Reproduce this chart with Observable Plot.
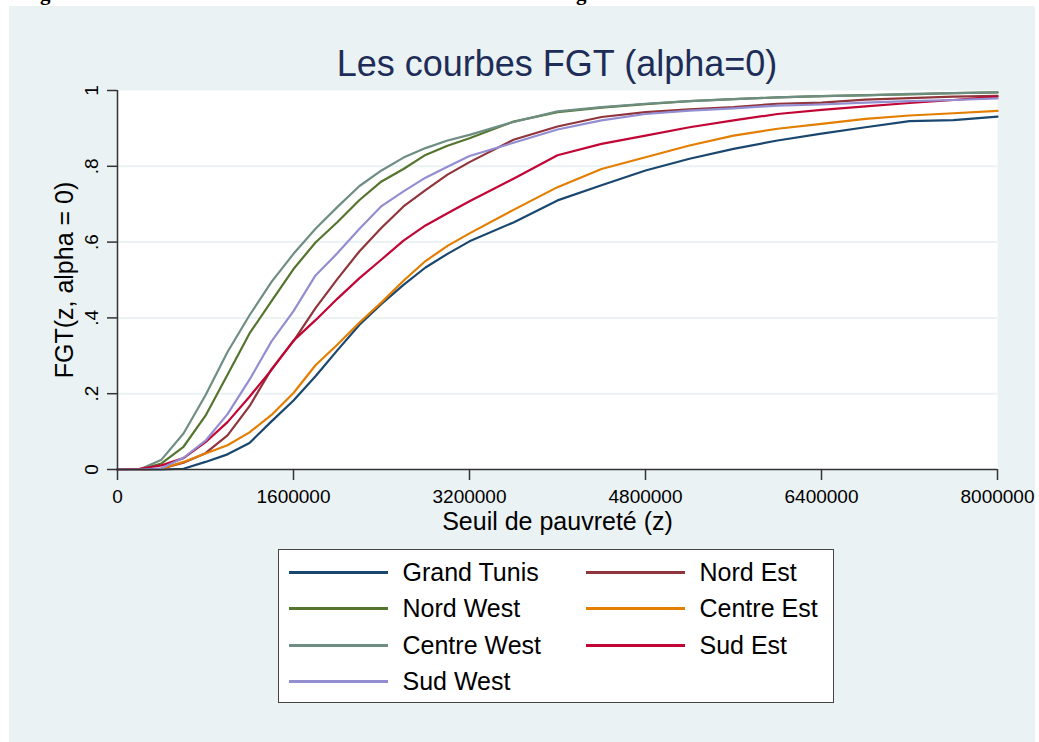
<!DOCTYPE html>
<html><head><meta charset="utf-8">
<script src="https://cdn.jsdelivr.net/npm/d3@7"></script>
<script src="https://cdn.jsdelivr.net/npm/@observablehq/plot@0.6"></script>
<style>
body{margin:0;background:#fff;width:1039px;height:742px;overflow:hidden;position:relative;font-family:"Liberation Sans",Arial,sans-serif;}
#topclip{position:absolute;left:0;top:0;width:1039px;height:6px;overflow:hidden;}
#topclip span{position:absolute;top:-17px;font:bold 21px "Liberation Serif","Times New Roman",serif;line-height:21px;color:#000;}
#chart{position:absolute;left:9px;top:6px;width:1026px;height:736px;background:#eaf2f3;}
#title{position:absolute;left:108px;width:880px;top:40px;line-height:36px;text-align:center;font-size:36px;color:#1e2d58;white-space:nowrap;}
#plot{position:absolute;left:0;top:74px;}
#legend{position:absolute;left:269px;top:543px;width:556px;height:154px;background:#fff;border:1.5px solid #444;box-sizing:border-box;}
.item{position:absolute;height:30px;line-height:30px;font-size:25px;color:#000;white-space:nowrap;}
.sw{position:absolute;height:3px;width:99px;}
</style>
</head><body>
<div id="topclip"><span style="left:40px">g</span><span style="left:576px">g</span></div>
<div id="chart">
  <div id="title"></div>
  <div id="plot"></div>
  <div id="legend"></div>
</div>
<script>
const chartTitle = "Les courbes FGT (alpha=0)";
const xLabel = "Seuil de pauvreté (z)";
const yLabel = "FGT(z, alpha = 0)";

const xTicks = [0, 1600000, 3200000, 4800000, 6400000, 8000000];
const yTicks = [0, 0.2, 0.4, 0.6, 0.8, 1];
const yTickLabels = ["0", ".2", ".4", ".6", ".8", "1"];
const gridTicks = [0.2, 0.4, 0.6, 0.8];

const seriesNames = ["Grand Tunis", "Nord Est", "Nord West", "Centre Est", "Centre West", "Sud Est", "Sud West"];
const seriesColors = ["#1a476f", "#90353b", "#55752f", "#e37e00", "#6e8e84", "#c10534", "#938dd2"];

const xs = [0, 200000, 400000, 600000, 800000, 1000000, 1200000, 1400000, 1600000, 1800000, 2000000, 2200000, 2400000, 2600000, 2800000, 3000000, 3200000, 3600000, 4000000, 4400000, 4800000, 5200000, 5600000, 6000000, 6400000, 6800000, 7200000, 7600000, 8000000];

const grandTunis = [0, 0, 0, 0.002, 0.02, 0.04, 0.07, 0.127, 0.182, 0.246, 0.315, 0.382, 0.437, 0.487, 0.533, 0.569, 0.602, 0.652, 0.71, 0.75, 0.789, 0.82, 0.846, 0.868, 0.886, 0.903, 0.919, 0.922, 0.931];
const nordEst = [0, 0, 0.002, 0.018, 0.043, 0.09, 0.167, 0.265, 0.339, 0.426, 0.503, 0.576, 0.638, 0.694, 0.737, 0.778, 0.811, 0.87, 0.905, 0.93, 0.943, 0.95, 0.956, 0.965, 0.968, 0.976, 0.98, 0.984, 0.986];
const nordWest = [0, 0, 0.016, 0.06, 0.142, 0.25, 0.359, 0.444, 0.529, 0.599, 0.653, 0.711, 0.76, 0.793, 0.83, 0.854, 0.874, 0.918, 0.943, 0.955, 0.964, 0.972, 0.977, 0.982, 0.985, 0.988, 0.99, 0.993, 0.995];
const centreEst = [0, 0, 0.002, 0.02, 0.042, 0.064, 0.098, 0.144, 0.202, 0.275, 0.33, 0.388, 0.441, 0.498, 0.55, 0.59, 0.623, 0.685, 0.745, 0.793, 0.824, 0.855, 0.881, 0.899, 0.912, 0.925, 0.934, 0.94, 0.946];
const centreWest = [0, 0, 0.026, 0.095, 0.196, 0.31, 0.407, 0.495, 0.569, 0.635, 0.693, 0.748, 0.789, 0.823, 0.848, 0.868, 0.883, 0.917, 0.945, 0.956, 0.965, 0.972, 0.977, 0.982, 0.985, 0.987, 0.991, 0.993, 0.995];
const sudEst = [0, 0.002, 0.011, 0.03, 0.072, 0.125, 0.192, 0.263, 0.34, 0.394, 0.451, 0.505, 0.554, 0.604, 0.644, 0.676, 0.708, 0.767, 0.829, 0.859, 0.881, 0.903, 0.921, 0.938, 0.949, 0.958, 0.967, 0.975, 0.984];
const sudWest = [0, 0, 0.003, 0.031, 0.076, 0.146, 0.237, 0.338, 0.418, 0.512, 0.571, 0.635, 0.695, 0.734, 0.77, 0.799, 0.827, 0.862, 0.897, 0.921, 0.938, 0.947, 0.953, 0.96, 0.963, 0.968, 0.972, 0.975, 0.979];

const seriesValues = [grandTunis, nordEst, nordWest, centreEst, centreWest, sudEst, sudWest];

const data = seriesNames.flatMap((name, i) => xs.map((x, j) => ({series: name, x, y: seriesValues[i][j]})));

document.getElementById("title").textContent = chartTitle;

const chart = Plot.plot({
  width: 1026, height: 460,
  marginLeft: 108, marginRight: 38, marginTop: 10, marginBottom: 71,
  style: {background: "transparent", fontFamily: "'Liberation Sans', Arial, sans-serif", fontSize: "19px", color: "#000", overflow: "visible"},
  x: {domain: [0, 8000000], axis: null},
  y: {domain: [0, 1], axis: null},
  color: {domain: seriesNames, range: seriesColors},
  marks: [
    Plot.frame({fill: "white", stroke: "none"}),
    Plot.gridY(gridTicks, {stroke: "#eaf2f3", strokeOpacity: 1, strokeWidth: 2}),
    Plot.line(data, {x: "x", y: "y", z: "series", stroke: "series", strokeWidth: 2.2}),
    Plot.ruleY([0], {stroke: "#333", strokeWidth: 1.5}),
    Plot.ruleX([0], {stroke: "#333", strokeWidth: 1.5}),
    Plot.axisX({ticks: xTicks, tickSize: 11, tickPadding: 9, tickFormat: d => String(d), stroke: "#333", strokeWidth: 1.5, fill: "#000", fontSize: 19, label: null}),
    Plot.axisY({ticks: yTicks, tickSize: 10, tickFormat: () => "", stroke: "#333", strokeWidth: 1.5, label: null}),
    Plot.text(yTicks, {y: d => d, frameAnchor: "left", textAnchor: "middle", lineAnchor: "middle", text: (d, i) => yTickLabels[i], rotate: -90, dx: -26, fontSize: 19, fill: "#000"}),
    Plot.text([xLabel], {frameAnchor: "bottom", textAnchor: "middle", lineAnchor: "middle", dy: 52, fontSize: 25, fill: "#000"}),
    Plot.text([yLabel], {frameAnchor: "left", textAnchor: "middle", lineAnchor: "middle", dx: -53, rotate: -90, fontSize: 25, fill: "#000"})
  ]
});
document.getElementById("plot").appendChild(chart);

const legend = document.getElementById("legend");
const rowCenters = [22, 58, 95, 131];
const colLine = [10, 307];
const colText = [123.5, 420.5];
seriesNames.forEach((name, i) => {
  const r = Math.floor(i / 2), c = i % 2;
  const sw = document.createElement("div");
  sw.className = "sw";
  sw.style.left = colLine[c] + "px";
  sw.style.top = (rowCenters[r] - 1) + "px";
  sw.style.background = seriesColors[i];
  legend.appendChild(sw);
  const t = document.createElement("div");
  t.className = "item";
  t.style.left = colText[c] + "px";
  t.style.top = (rowCenters[r] - 15) + "px";
  t.textContent = name;
  legend.appendChild(t);
});
</script>
</body></html>
